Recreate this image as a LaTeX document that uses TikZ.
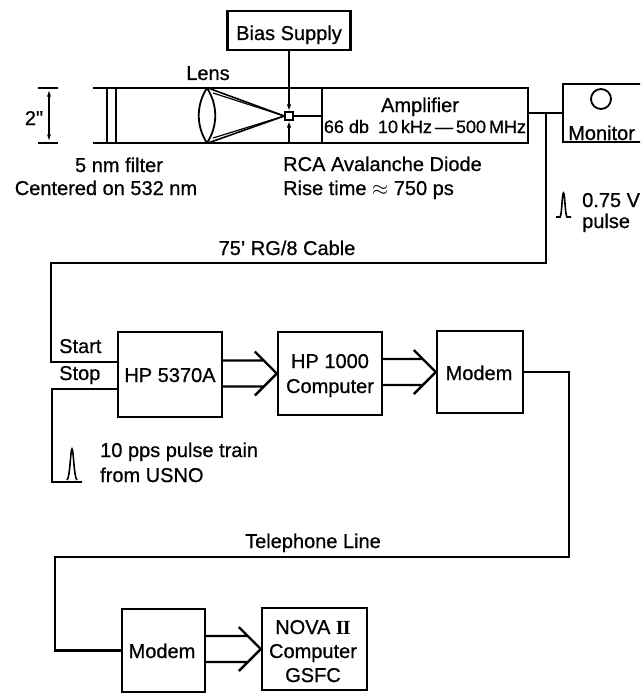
\documentclass[tikz,border=0pt]{standalone}
\usepackage{fontspec}
\setmainfont{Liberation Sans}[FakeBold=0.7]
\newfontfamily\romanfont{Liberation Serif Bold}
\usetikzlibrary{arrows.meta,calc}
\tikzset{
  box/.style={draw, line width=2.4pt, inner sep=0pt},
  lbl/.style={font=\fontsize{20}{24}\selectfont, inner sep=0pt, anchor=base},
  wire/.style={line width=2.4pt},
  tip/.style={-{Latex[length=7pt,width=4.5pt]}},
}
\newcommand\busarrow[2]{%
  \draw[wire, line join=miter] let \p1=(#2.west), \p2=(#1.east) in
    (\x2,\y1+13pt) -- (\x1-13pt,\y1+13pt)
    (\x2,\y1-13pt) -- (\x1-13pt,\y1-13pt)
    (\x1-22pt,\y1+22pt) -- (\p1) -- (\x1-22pt,\y1-22pt);}
\begin{document}
\begin{tikzpicture}[x=1pt,y=-1pt]
\useasboundingbox (0,0) rectangle (640,693);
\clip (0,0) rectangle (640,693);

% ---- boxes
\node[box, minimum width=123pt, minimum height=39pt] (bias) at (289,30.5) {};
\node[box, minimum width=206pt, minimum height=55pt] (amp) at (425,115.5) {};
\node[box, minimum width=87pt, minimum height=58pt] (mon) at (606.5,113) {};
\node[box, minimum width=104pt, minimum height=85pt] (hp) at (170,374.5) {};
\node[box, minimum width=104pt, minimum height=83pt] (hpc) at (330,373.5) {};
\node[box, minimum width=86pt, minimum height=82pt] (modem) at (480,372) {};
\node[box, minimum width=83pt, minimum height=83pt] (modemb) at (163.5,650.5) {};
\node[box, minimum width=105pt, minimum height=82pt] (nova) at (314.5,649) {};
\node[draw, line width=1.4pt, fill=white, minimum size=8pt, inner sep=0pt] (diode) at (289,116) {};
\node[draw, circle, line width=1.8pt, minimum size=20pt, inner sep=0pt] (knob) at (601,99) {};

% ---- labels
\node[lbl] (biasl) at (289,40) {Bias Supply};
\node[lbl] (lens) at (208,80) {Lens};
\node[lbl] (dim) at (34,125) {2\textquotedbl};
\node[lbl] (filt) at (119,172) {5 nm filter};
\node[lbl] (cent) at (106,195) {Centered on 532 nm};
\node[lbl, anchor=base west] (rca) at (283,171) {RCA Avalanche Diode};
\node[lbl, anchor=base west] (rise) at (283,195) {Rise time $\approx$ 750 ps};
\node[lbl] (ampl) at (420,112) {Amplifier};
\node[lbl, font=\fontsize{18}{22}\selectfont] (ampb) at (425,133) {66 db\enspace 10\,kHz\,—\,500\,MHz};
\node[lbl, anchor=base west] (monl) at (568,140) {Monitor};
\node[lbl, anchor=base west] (pv) at (582,207) {0.75 V};
\node[lbl, anchor=base west] (pp) at (582,228) {pulse};
\node[lbl] (cable) at (287,255) {75' RG/8 Cable};
\node[lbl, anchor=base west] (start) at (59,353) {Start};
\node[lbl, anchor=base west] (stop) at (59,380) {Stop};
\node[lbl] (hpl) at (170,382) {HP 5370A};
\node[lbl] (hpcl1) at (330,368) {HP 1000};
\node[lbl] (hpcl2) at (330,393) {Computer};
\node[lbl] (modl) at (479,380) {Modem};
\node[lbl, anchor=base west] (usno1) at (100,457) {10 pps pulse train};
\node[lbl, anchor=base west] (usno2) at (100,482) {from USNO};
\node[lbl] (tel) at (313,548) {Telephone Line};
\node[lbl] (modbl) at (162,658) {Modem};
\node[lbl] (nova1) at (313,634) {NOVA {\romanfont I\kern-0.04em I}};
\node[lbl] (nova2) at (313,658) {Computer};
\node[lbl] (nova3) at (313,682) {GSFC};

% ---- optical tube
\coordinate (tl) at (93,88);
\coordinate (bl) at (93,143);
\draw[wire] (tl) -- (tl -| amp.west);
\draw[wire] (bl) -- (bl -| amp.west);
\draw[wire] (107,88) -- (107,143);
\draw[wire] (116,88) -- (116,143);
% 2 inch dimension
\draw[wire] (38,88) -- (58,88);
\draw[wire] (38,143) -- (58,143);
\draw[line width=1.3pt, {Latex[length=7pt,width=4pt]}-{Latex[length=7pt,width=4pt]}] (49,89.5) -- (49,141.5);
% lens
\draw[line width=1.8pt] (207,88) .. controls (196,105) and (196,126) .. (207,143);
\draw[line width=1.8pt] (207,88) .. controls (218,105) and (218,126) .. (207,143);
% rays
\draw[line width=1.6pt] (208,88) -- (diode.west);
\draw[line width=1.2pt] (213,93) -- (diode.west);
\draw[line width=1.6pt] (208,143) -- (diode.west);
\draw[line width=1.2pt] (213,138) -- (diode.west);
% bias and mount
\draw[wire, tip] (bias.south) -- (diode.north);
\coordinate (mount) at (289,143);
\draw[wire, tip] (mount) -- (diode.south);
\draw[wire] (diode.east) -- (diode.east -| amp.west);

% ---- amplifier output, monitor, cable
\coordinate (j) at (546,113);
\draw[wire] (amp.east |- j) -- (mon.west |- j);
\coordinate (c2) at (51,263);
\draw[wire] (j) |- (c2) |- ($(hp.west)+(0,-12.5)$);
% pulse symbol 0.75 V
\draw[line width=1.6pt] (556,217) -- (560,217) .. controls (562,215) and (562,193) .. (563.5,193)
  .. controls (565,193) and (565,215) .. (567,217) -- (571,217);

% ---- stop input
\coordinate (sL) at (52,482);
\coordinate (sR) at (82,482);
\draw[wire] ($(hp.west)+(0,14.5)$) -| (sL) -- (sR);
\draw[line width=1.6pt] (67,480) .. controls (70,478) and (70.5,449) .. (72,449)
  .. controls (73.5,449) and (74,478) .. (77,480);

% ---- bus arrows
\busarrow{hp}{hpc}
\busarrow{hpc}{modem}
\busarrow{modemb}{nova}

% ---- telephone line
\coordinate (t1) at (569,557);
\coordinate (t2) at (55,557);
\draw[wire] (modem.east) -| (t1) -- (t2) |- (modemb.west);
\end{tikzpicture}
\end{document}
